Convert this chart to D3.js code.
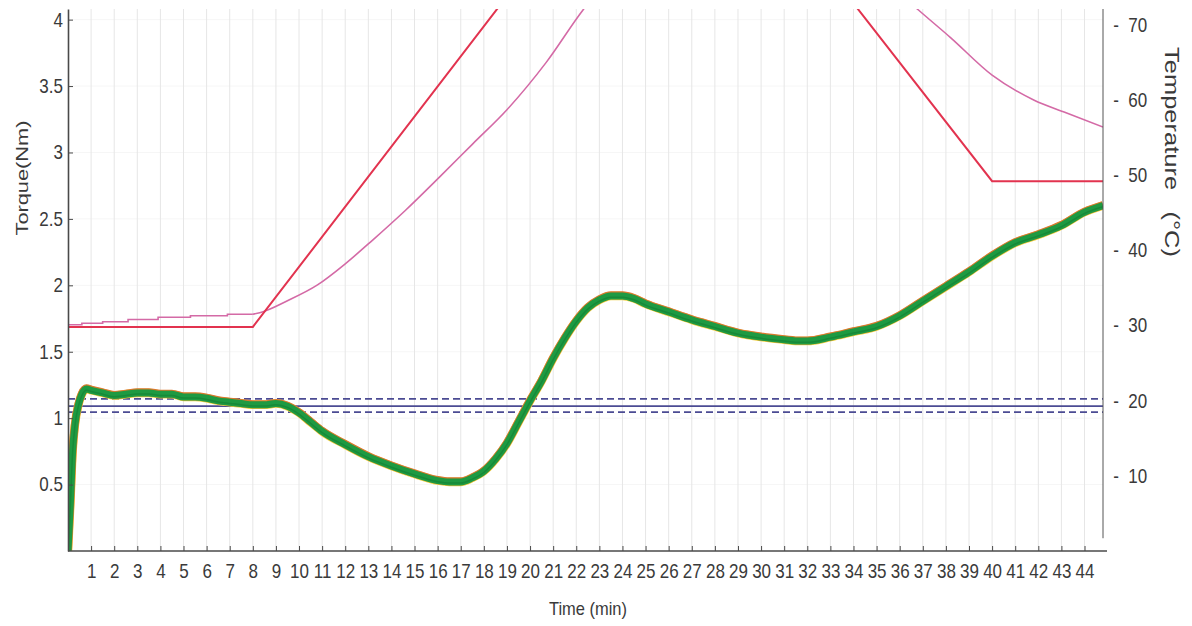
<!DOCTYPE html>
<html>
<head>
<meta charset="utf-8">
<script src="https://cdn.jsdelivr.net/npm/d3@7"></script>
<style>
  body { margin: 0; background: #fff; }
  .tick text { font-family: "Liberation Sans", Arial, sans-serif; font-size: 20px; fill: #3a3a3a; }
  .title { font-family: "Liberation Sans", Arial, sans-serif; fill: #3a3a3a; }
</style>
</head>
<body>
<div id="chart"></div>
<script>
// time ticks (min)
var timeTicks = d3.range(1, 45);
var torqueTicks = [0.5, 1, 1.5, 2, 2.5, 3, 3.5, 4];
var tempTicks = [10, 20, 30, 40, 50, 60, 70];

// torque (Nm)
var torqueTime = [0, 0.1, 0.2, 0.3, 0.45, 0.6, 0.8, 1, 1.5, 2, 2.5, 3, 3.5, 4, 4.5, 5, 5.5, 6, 6.5, 7, 7.5, 8, 8.5, 9, 9.5, 10, 10.5, 11, 12, 13, 14, 15, 16, 16.5, 17, 17.5, 18, 18.5, 19, 19.5, 20, 20.5, 21, 21.5, 22, 22.5, 23, 23.5, 24, 24.5, 25, 26, 27, 28, 29, 30, 31, 31.7, 32, 33, 34, 35, 36, 37, 38, 39, 40, 41, 42, 43, 44, 44.8];
var torqueVal = [0, 0.35, 0.75, 0.95, 1.1, 1.18, 1.22, 1.21, 1.19, 1.17, 1.18, 1.19, 1.19, 1.18, 1.18, 1.16, 1.16, 1.15, 1.13, 1.12, 1.11, 1.1, 1.1, 1.11, 1.09, 1.04, 0.97, 0.9, 0.8, 0.71, 0.64, 0.58, 0.53, 0.52, 0.52, 0.55, 0.6, 0.69, 0.81, 0.97, 1.13, 1.28, 1.45, 1.6, 1.73, 1.83, 1.89, 1.92, 1.92, 1.9, 1.86, 1.8, 1.74, 1.69, 1.64, 1.61, 1.59, 1.58, 1.58, 1.61, 1.65, 1.69, 1.77, 1.88, 1.99, 2.1, 2.22, 2.32, 2.38, 2.45, 2.55, 2.6];

// set temperature (°C)
var setTime = [0, 8, 23, 29.7, 40, 44.8];
var setTemp = [29.8, 29.8, 89.8, 89.8, 49.2, 49.2];

// measured temperature (°C): stepped hold, then ramp
var holdTime = [0, 0.6, 0.6, 1.5, 1.5, 2.6, 2.6, 3.9, 3.9, 5.3, 5.3, 6.9, 6.9, 8];
var holdTemp = [30.1, 30.1, 30.3, 30.3, 30.5, 30.5, 30.8, 30.8, 31.1, 31.1, 31.3, 31.3, 31.5, 31.5];
var rampTime = [8, 8.3, 9.5, 10.8, 12, 13.2, 14.6, 16.1, 17.5, 19, 20.7, 22.3, 24, 26, 28, 30, 32, 34, 36, 36.8, 38.2, 40, 41.8, 43.2, 44.8];
var rampTemp = [31.5, 31.7, 33.3, 35.4, 38.2, 41.4, 45.3, 49.8, 54.1, 58.7, 65, 72, 78, 83, 86, 87, 86, 82, 74.2, 72, 68.3, 63.3, 60, 58.3, 56.4];

// torque limit lines (Nm)
var limitMid = [1.09];
var limitBand = [1.045, 1.145];

var width = 1192;
var height = 626;
var margin = {top: 9, right: 89, bottom: 75, left: 68};
var squeeze = "scale(0.85,1)";

var svg = d3.select("#chart")
  .append("svg")
  .attr("width", width)
  .attr("height", height);

var x = d3.scaleLinear().domain([0, 44.8]).range([margin.left, width - margin.right]);
var yTq = d3.scaleLinear().domain([0, 4.08]).range([height - margin.bottom, margin.top]);
var yT = d3.scaleLinear().domain([0, 72.1]).range([height - margin.bottom, margin.top]);

svg.append("defs").append("clipPath").attr("id", "plot")
  .append("rect")
  .attr("x", margin.left)
  .attr("y", margin.top)
  .attr("width", width - margin.left - margin.right)
  .attr("height", height - margin.top - margin.bottom);

// grid
svg.append("g").selectAll("line").data(torqueTicks).enter()
  .append("line")
  .attr("x1", margin.left).attr("x2", width - margin.right)
  .attr("y1", d => yTq(d)).attr("y2", d => yTq(d))
  .attr("stroke", "#f6f6f6");

svg.append("g").selectAll("line").data(timeTicks).enter()
  .append("line")
  .attr("x1", d => x(d)).attr("x2", d => x(d))
  .attr("y1", margin.top).attr("y2", height - margin.bottom)
  .attr("stroke", "#e6e6e6");

var plot = svg.append("g").attr("clip-path", "url(#plot)");

function zipLine(xs, ys, yScale, curve) {
  return d3.line()
    .x(d => x(d[0]))
    .y(d => yScale(d[1]))
    .curve(curve)(xs.map((t, i) => [t, ys[i]]));
}

// limit lines
plot.selectAll(".band").data(limitBand).enter()
  .append("line")
  .attr("x1", margin.left).attr("x2", width - margin.right)
  .attr("y1", d => yTq(d)).attr("y2", d => yTq(d))
  .attr("stroke", "#4b4b93")
  .attr("stroke-width", 1.7)
  .attr("stroke-dasharray", "7,4");

plot.selectAll(".mid").data(limitMid).enter()
  .append("line")
  .attr("x1", margin.left).attr("x2", width - margin.right)
  .attr("y1", d => yTq(d)).attr("y2", d => yTq(d))
  .attr("stroke", "#4b4b93")
  .attr("stroke-width", 1.7);

// temperature lines
plot.append("path")
  .attr("d", zipLine(holdTime, holdTemp, yT, d3.curveLinear))
  .attr("fill", "none").attr("stroke", "#d46aa6").attr("stroke-width", 1.6);

plot.append("path")
  .attr("d", zipLine(rampTime, rampTemp, yT, d3.curveMonotoneX))
  .attr("fill", "none").attr("stroke", "#d46aa6").attr("stroke-width", 1.6);

plot.append("path")
  .attr("d", zipLine(setTime, setTemp, yT, d3.curveLinear))
  .attr("fill", "none").attr("stroke", "#e2334f").attr("stroke-width", 2);

// torque
var torquePath = zipLine(torqueTime, torqueVal, yTq, d3.curveMonotoneX);
plot.append("path")
  .attr("d", torquePath)
  .attr("fill", "none").attr("stroke", "#f0d040").attr("stroke-width", 8.5);
plot.append("path")
  .attr("d", torquePath)
  .attr("fill", "none").attr("stroke", "#d9792e").attr("stroke-width", 8)
  .attr("transform", "translate(0,-0.6)");
plot.append("path")
  .attr("d", torquePath)
  .attr("fill", "none").attr("stroke", "#1e9a42").attr("stroke-width", 7);
plot.append("path")
  .attr("d", torquePath)
  .attr("fill", "none").attr("stroke", "#178a38").attr("stroke-width", 1.5)
  .attr("transform", "translate(0,1.2)");

// axes
var xAxis = d3.axisBottom(x).tickValues(timeTicks).tickSizeInner(-5).tickSizeOuter(0).tickPadding(13);
var gx = svg.append("g")
  .attr("transform", "translate(0," + (height - margin.bottom) + ")")
  .call(xAxis);
gx.select(".domain").attr("stroke", "#4a4a4a").attr("stroke-width", 1.6)
  .attr("d", "M" + margin.left + ",0H" + (width - margin.right + 4));
gx.selectAll(".tick line").attr("stroke", "#4a4a4a");
gx.selectAll(".tick text").attr("transform", squeeze);

var yAxis = d3.axisLeft(yTq).tickValues(torqueTicks).tickSizeInner(-5).tickSizeOuter(0).tickPadding(6)
  .tickFormat(d => String(d));
var gy = svg.append("g")
  .attr("transform", "translate(" + margin.left + ",0)")
  .call(yAxis);
gy.select(".domain").attr("stroke", "#4a4a4a").attr("stroke-width", 1.6);
gy.selectAll(".tick line").attr("stroke", "#4a4a4a");
gy.selectAll(".tick text").attr("transform", squeeze);

var yAxisR = d3.axisRight(yT).tickValues(tempTicks).tickSize(0).tickPadding(12)
  .tickFormat(d => "-  " + d);
var gr = svg.append("g")
  .attr("transform", "translate(" + (width - margin.right) + ",0)")
  .call(yAxisR);
gr.select(".domain").attr("stroke", "#555").attr("stroke-width", 1)
  .attr("d", "M0," + margin.top + "V" + yT(1.7));
gr.selectAll(".tick text").style("white-space", "pre").attr("transform", squeeze);

// titles
svg.append("text")
  .attr("class", "title")
  .attr("x", 588)
  .attr("y", 615)
  .attr("text-anchor", "middle")
  .attr("textLength", 78)
  .attr("lengthAdjust", "spacingAndGlyphs")
  .style("font-size", "19px")
  .text("Time (min)");

svg.append("text")
  .attr("class", "title")
  .attr("transform", "translate(28,178)rotate(-90)")
  .attr("text-anchor", "middle")
  .attr("textLength", 115)
  .attr("lengthAdjust", "spacingAndGlyphs")
  .style("font-size", "17px")
  .text("Torque(Nm)");

svg.append("text")
  .attr("class", "title")
  .attr("transform", "translate(1165,152)rotate(90)")
  .attr("text-anchor", "middle")
  .attr("textLength", 210)
  .attr("lengthAdjust", "spacingAndGlyphs")
  .style("font-size", "21px")
  .style("white-space", "pre")
  .text("Temperature   (°C)");
</script>
</body>
</html>
